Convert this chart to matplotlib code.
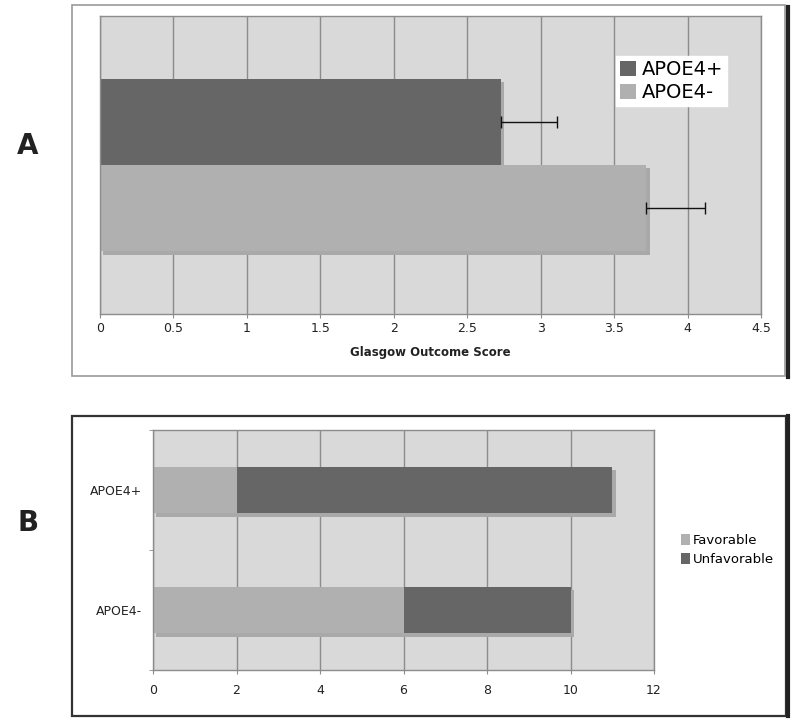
import matplotlib
matplotlib.use('Agg')
import matplotlib.pyplot as plt
import matplotlib.patheffects as pe
from matplotlib.patches import Rectangle
from matplotlib.lines import Line2D

# panel A data
groups_a = ['APOE4+', 'APOE4-']
gos_mean = [2.73, 3.72]
gos_err = [0.38, 0.40]
a_ticks = [0, 0.5, 1, 1.5, 2, 2.5, 3, 3.5, 4, 4.5]

# panel B data
groups_b = ['APOE4+', 'APOE4-']
favorable = [2, 6]
unfavorable = [9, 4]
b_ticks = [0, 2, 4, 6, 8, 10, 12]

dark = '#666666'
light = '#b0b0b0'
bg = '#d9d9d9'
grid = '#8c8c8c'

W, H = 800, 727
fig = plt.figure(figsize=(8, 7.27), dpi=100)

def fx(x):
    return x / W

def fy(y):
    return 1 - y / H

shadow = [pe.SimplePatchShadow(offset=(2.5, -2.5), shadow_rgbFace='#a9a9a9', alpha=1.0), pe.Normal()]

# ---------- panel A ----------
axa = fig.add_axes([fx(100), fy(314), fx(761) - fx(100), fy(16) - fy(314)])
axa.set_facecolor(bg)
axa.set_axisbelow(True)
axa.xaxis.grid(True, color=grid, lw=1)
offs = [-0.145, 0.145]
cols_a = [dark, light]
bars_a = []
for i in range(2):
    b = axa.barh(offs[i], gos_mean[i], height=0.29, color=cols_a[i], label=groups_a[i], zorder=2)
    bars_a += list(b)
    axa.errorbar(gos_mean[i], offs[i], xerr=[[0], [gos_err[i]]], fmt='none',
                 ecolor='#111111', elinewidth=1, capsize=4, capthick=1, zorder=3)
axa.set_xlim(0, 4.5)
axa.set_ylim(0.5, -0.5)
axa.set_xticks(a_ticks)
axa.set_xticklabels([('%g' % t) for t in a_ticks], fontsize=9, color='#222222')
axa.set_yticks([])
axa.tick_params(axis='x', length=3, color=grid, pad=3)
for s in axa.spines.values():
    s.set_color(grid)
    s.set_linewidth(1)
axa.set_xlabel('Glasgow Outcome Score', fontsize=8.5, fontweight='bold', color='#222222', labelpad=8)
axa.legend(loc='center', bbox_to_anchor=(fx(671.5), fy(81)), bbox_transform=fig.transFigure,
           fontsize=14, frameon=True, fancybox=False, edgecolor='white', framealpha=1,
           handlelength=0.8, handleheight=0.8, handletextpad=0.3, labelspacing=0.2,
           borderpad=0.2, borderaxespad=0)
for p in bars_a:
    p.set_path_effects(shadow)

# ---------- panel B ----------
axb = fig.add_axes([fx(153), fy(670), fx(654) - fx(153), fy(430) - fy(670)])
axb.set_facecolor(bg)
axb.set_axisbelow(True)
axb.xaxis.grid(True, color=grid, lw=1)
ypos = list(range(len(groups_b)))
b1 = axb.barh(ypos, favorable, height=0.39, color=light, label='Favorable', zorder=2)
b2 = axb.barh(ypos, unfavorable, left=favorable, height=0.39, color=dark, label='Unfavorable', zorder=2)
axb.set_xlim(0, 12)
axb.set_ylim(1.5, -0.5)
axb.set_xticks(b_ticks)
axb.set_xticklabels([str(t) for t in b_ticks], fontsize=9, color='#222222')
axb.set_yticks(ypos)
axb.set_yticklabels(groups_b, fontsize=9, color='#222222')
axb.set_yticks([-0.5, 0.5, 1.5], minor=True)
axb.tick_params(axis='y', which='major', length=0, pad=8)
axb.tick_params(axis='y', which='minor', length=3, color=grid)
axb.tick_params(axis='x', length=3, color=grid, pad=7)
for s in axb.spines.values():
    s.set_color(grid)
    s.set_linewidth(1)
axb.legend(loc='center left', bbox_to_anchor=(fx(681), fy(550)), bbox_transform=fig.transFigure,
           fontsize=9.5, frameon=False, handlelength=0.7, handleheight=0.9,
           handletextpad=0.2, labelspacing=0.5, borderpad=0, borderaxespad=0)
for p in list(b1) + list(b2):
    p.set_path_effects(shadow)

# ---------- frames and panel letters ----------
fig.patches.append(Rectangle((fx(72), fy(376)), fx(785) - fx(72), fy(5) - fy(376),
                             transform=fig.transFigure, fill=False, edgecolor='#9a9a9a', lw=1.2))
fig.lines.append(Line2D([fx(788), fx(788)], [fy(7), fy(377)], transform=fig.transFigure,
                        color='#222222', lw=3))
fig.patches.append(Rectangle((fx(72), fy(716)), fx(786) - fx(72), fy(416) - fy(716),
                             transform=fig.transFigure, fill=False, edgecolor='#333333', lw=1.6))
fig.lines.append(Line2D([fx(788), fx(788)], [fy(416), fy(716)], transform=fig.transFigure,
                        color='#222222', lw=3))

fig.text(fx(28), fy(146), 'A', fontsize=20, fontweight='bold', color='#222222', ha='center', va='center')
fig.text(fx(28), fy(523), 'B', fontsize=20, fontweight='bold', color='#222222', ha='center', va='center')

fig.savefig('out.png', dpi=100, facecolor='white')
